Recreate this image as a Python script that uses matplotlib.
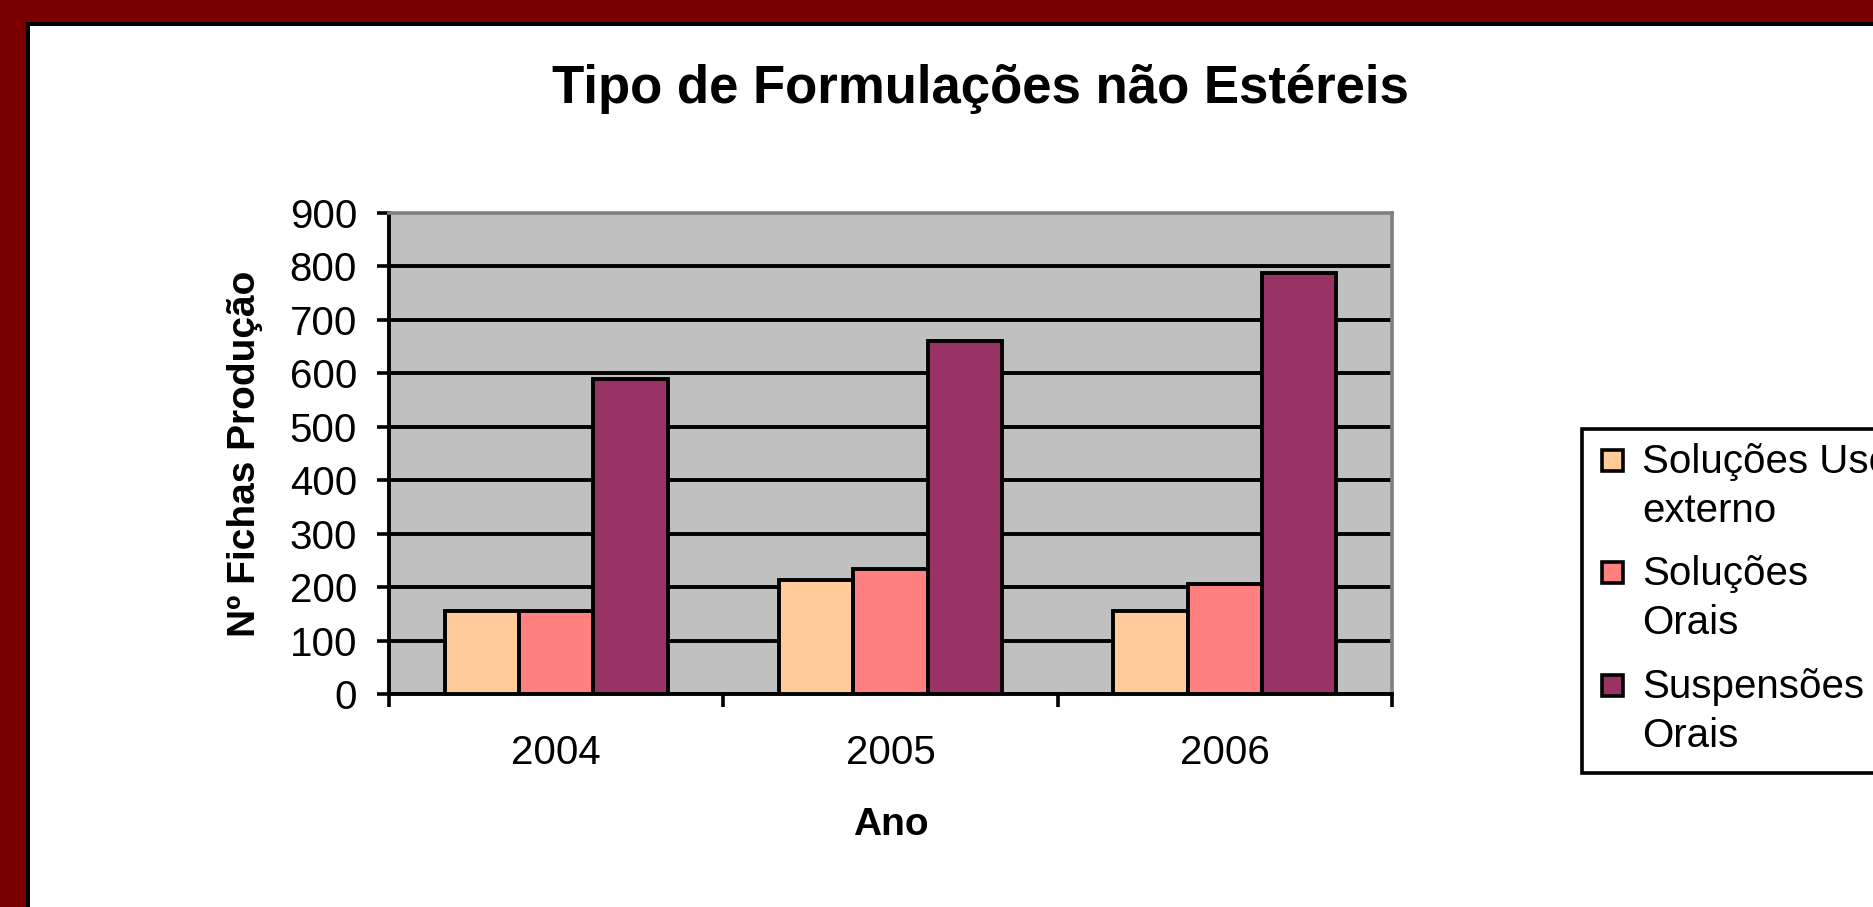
import matplotlib
matplotlib.use("Agg")
import matplotlib.pyplot as plt
from matplotlib.patches import Rectangle
import numpy as np

plt.rcParams['font.family'] = ['Liberation Sans', 'DejaVu Sans']

# ---- data ----
years = ["2004", "2005", "2006"]
series_names = ["Soluções Uso externo", "Soluções Orais", "Suspensões Orais"]
legend_lines = [["Soluções Uso", "externo"], ["Soluções", "Orais"], ["Suspensões", "Orais"]]
uso_externo = [155, 213, 155]
solucoes_orais = [155, 233, 205]
suspensoes_orais = [589, 660, 788]
y_ticks = [0, 100, 200, 300, 400, 500, 600, 700, 800, 900]
colors = ["#FFCC99", "#FF8080", "#993366"]
title = "Tipo de Formulações não Estéreis"
x_label = "Ano"
y_label = "Nº Fichas Produção"

series = [uso_externo, solucoes_orais, suspensoes_orais]

W, H = 1873, 907
fig = plt.figure(figsize=(W / 100, H / 100), dpi=100)
fig.patch.set_facecolor("#7A0000")


def fx(px):
    return px / W


def fy(py):
    return 1 - py / H


# white panel with dark edge
fig.add_artist(Rectangle((fx(26), fy(920)), fx(1900) - fx(26), fy(22) - fy(920),
                         transform=fig.transFigure, facecolor="black",
                         edgecolor="none", zorder=-3))
fig.add_artist(Rectangle((fx(30), fy(920)), fx(1900) - fx(30), fy(26) - fy(920),
                         transform=fig.transFigure, facecolor="white",
                         edgecolor="none", zorder=-2))

# ---- axes ----
ax_l, ax_r, ax_t, ax_b = 389, 1392, 213, 694
ax = fig.add_axes([fx(ax_l), fy(ax_b), (ax_r - ax_l) / W, (ax_b - ax_t) / H])
ax.set_facecolor("#C0C0C0")

n = len(series)
w = 1.0 / (n + 1.5)
x = np.arange(len(years))
for i, (vals, c, name) in enumerate(zip(series, colors, series_names)):
    ax.bar(x + (i - 1) * w, vals, width=w, color=c, edgecolor="black",
           linewidth=2.8, zorder=3, label=name)

ax.set_xlim(-0.5, len(years) - 0.5)
ax.set_ylim(0, 900)
ax.set_yticks(y_ticks)
ax.set_xticks(x, years)
ax.set_xticks(np.arange(len(years) + 1) - 0.5, minor=True)

ax.tick_params(axis='x', which='major', length=0, pad=29, labelsize=29, colors='black')
ax.tick_params(axis='x', which='minor', length=9, width=2.6, direction='out', color='black')
ax.tick_params(axis='y', which='major', length=9, width=2.6, direction='out', pad=14,
               labelsize=29, colors='black')

ax.set_axisbelow(True)
ax.yaxis.grid(True, color='black', linewidth=2.8)
ax.yaxis.get_gridlines()[-1].set_visible(False)

for s in ['left', 'bottom']:
    ax.spines[s].set_color('black')
    ax.spines[s].set_linewidth(2.8)
for s in ['top', 'right']:
    ax.spines[s].set_color('#808080')
    ax.spines[s].set_linewidth(2.6)

ax.set_ylabel(y_label, fontsize=28, fontweight='bold')
ax.yaxis.set_label_coords((245 - ax_l) / (ax_r - ax_l), 0.5)
ax.yaxis.label.set_va('center')

ax.set_xlabel(x_label, fontsize=28, fontweight='bold')
ax.xaxis.set_label_coords(0.5, (ax_b - 825) / (ax_b - ax_t))
ax.xaxis.label.set_va('center')

fig.text(fx(980), fy(103), title, ha='center', va='baseline', fontsize=38,
         fontweight='bold')

# ---- legend (drawn manually so markers align with the first text line) ----
lx0, ly0, ly1 = 1582, 429, 773
fig.add_artist(Rectangle((fx(lx0), fy(ly1)), fx(1950) - fx(lx0), fy(ly0) - fy(ly1),
                         transform=fig.transFigure, facecolor='white',
                         edgecolor='black', linewidth=2.6, zorder=5))
marker_tops = [450, 562, 675]
line_gap = 49
for lines, c, mt in zip(legend_lines, colors, marker_tops):
    fig.add_artist(Rectangle((fx(1602), fy(mt + 21)), fx(1623) - fx(1602), fy(mt) - fy(mt + 21),
                             transform=fig.transFigure, facecolor=c,
                             edgecolor='black', linewidth=2.6, zorder=6))
    for k, line in enumerate(lines):
        fig.text(fx(1642), fy(mt + 23 + k * line_gap), line, ha='left', va='baseline',
                 fontsize=29, zorder=7)

fig.savefig("out.png", dpi=100, facecolor=fig.get_facecolor())
